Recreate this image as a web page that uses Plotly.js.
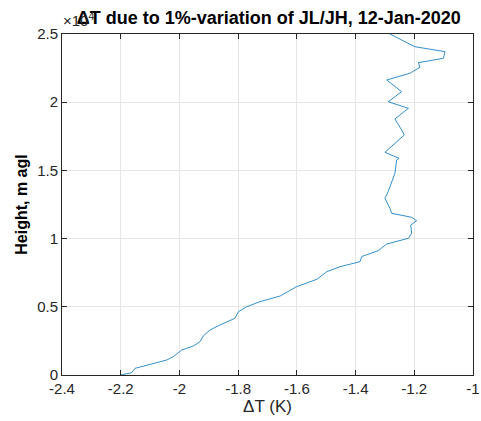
<!DOCTYPE html>
<html>
<head>
<meta charset="utf-8">
<script src="https://cdn.plot.ly/plotly-3.0.1.min.js"></script>
<style>html,body{margin:0;padding:0;background:#fff;}#chart{width:481px;height:421px;}</style>
</head>
<body>
<div id="chart"></div>
<script>
// ΔT (K) profile vs height (m agl)
var deltaT = [-2.200,-2.163,-2.151,-2.043,-2.021,-1.992,-1.953,-1.930,-1.919,-1.896,
  -1.862,-1.811,-1.799,-1.771,-1.726,-1.657,-1.601,-1.532,-1.498,-1.453,
  -1.385,-1.379,-1.323,-1.294,-1.220,-1.209,-1.212,-1.192,-1.209,-1.277,
  -1.283,-1.300,-1.289,-1.283,-1.266,-1.260,-1.252,-1.300,-1.234,-1.243,
  -1.266,-1.220,-1.289,-1.243,-1.294,-1.215,-1.181,-1.186,-1.101,-1.095,
  -1.198,-1.243,-1.283];
var heightM = [0,169,491,1100,1342,1833,2126,2441,2859,3299,
  3666,4157,4641,5007,5374,5792,6474,7016,7573,7940,
  8306,8688,9113,9604,10022,10389,10997,11312,11562,11855,
  12221,12955,13439,13805,14787,15762,15887,16327,17595,17962,
  18768,19553,20037,20770,21628,22119,22559,22896,23218,23702,
  24069,24560,25000];
var xTickVals = [-2.4,-2.2,-2,-1.8,-1.6,-1.4,-1.2,-1];
var xTickText = ['-2.4','-2.2','-2','-1.8','-1.6','-1.4','-1.2','-1'];
var yTickVals = [0,5000,10000,15000,20000,25000];
var yTickText = ['0','0.5','1','1.5','2','2.5'];

var FONT = 'Liberation Sans, Arial, sans-serif';
var axisCommon = {
  showline: true, linecolor: '#262626', linewidth: 1, mirror: 'ticks',
  ticks: 'inside', ticklen: 5, tickcolor: '#262626', tickwidth: 1,
  showgrid: true, gridcolor: '#e6e6e6', gridwidth: 1, zeroline: false,
  tickfont: {family: FONT, size: 15, color: '#262626'}
};

var trace = {
  x: deltaT, y: heightM, type: 'scatter', mode: 'lines',
  line: {color: '#0072BD', width: 0.8}, hoverinfo: 'skip'
};

var layout = {
  width: 481, height: 421,
  margin: {l: 62, r: 8, t: 34, b: 46},
  paper_bgcolor: '#ffffff', plot_bgcolor: '#ffffff',
  showlegend: false,
  title: {
    text: '<b>ΔT due to 1%-variation of JL/JH, 12-Jan-2020</b>',
    font: {family: FONT, size: 18, color: '#000'},
    x: 0.559, xanchor: 'center', yref: 'container', y: 0.958, yanchor: 'middle'
  },
  xaxis: Object.assign({}, axisCommon, {
    range: [-2.4, -1], tickvals: xTickVals, ticktext: xTickText,
    title: {text: 'ΔT (K)', font: {family: FONT, size: 17, color: '#262626'}, standoff: 3}
  }),
  yaxis: Object.assign({}, axisCommon, {
    range: [0, 25000], tickvals: yTickVals, ticktext: yTickText,
    title: {text: '<b>Height, m agl</b>', font: {family: FONT, size: 16, color: '#000'}, standoff: 5}
  }),
  annotations: [{
    xref: 'paper', yref: 'paper', x: 0, y: 1, xanchor: 'left', yanchor: 'middle',
    text: '×10<sup>4</sup>', showarrow: false, yshift: 15, xshift: -1,
    font: {family: FONT, size: 15, color: '#262626'}
  }]
};

Plotly.newPlot('chart', [trace], layout, {displayModeBar: false, staticPlot: true});
</script>
</body>
</html>
